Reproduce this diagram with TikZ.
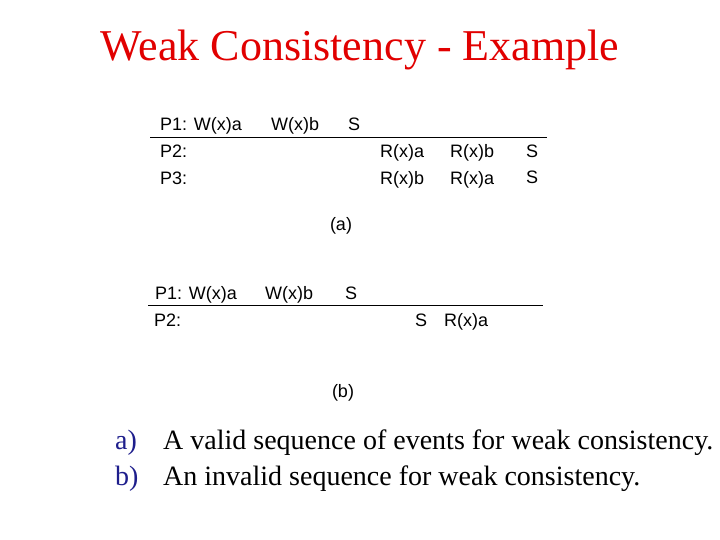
\documentclass[tikz,border=0pt]{standalone}
\usepackage{fontspec}
\setmainfont{Liberation Serif}
\newfontfamily\arialfont{Liberation Sans}
\definecolor{titlered}{RGB}{225,0,0}
\definecolor{labelblue}{RGB}{30,30,140}
\begin{document}
\begin{tikzpicture}[x=1pt,y=-1pt,
  ev/.style={anchor=base west,inner sep=0pt,font=\arialfont\fontsize{18}{20}\selectfont},
  subcap/.style={anchor=base,inner sep=0pt,font=\arialfont\fontsize{18}{20}\selectfont},
  txt/.style={anchor=base west,inner sep=0pt,font=\fontsize{28}{32}\selectfont},
  lbl/.style={anchor=base west,inner sep=0pt,text=labelblue,font=\fontsize{28}{32}\selectfont},
  sep/.style={line width=0.9pt}]
\useasboundingbox (0,0) rectangle (720,540);
\node[anchor=base,inner sep=0pt,text=titlered,font=\fontsize{44}{48}\selectfont] (title) at (360,61) {Weak Consistency - Example};
% (a)
\node[ev] (a11) at (160,131) {P1: W(x)a};
\node[ev] (a12) at (271,131) {W(x)b};
\node[ev] (a13) at (348,131) {S};
\coordinate (la1) at (150,137);
\coordinate (la2) at (547,137);
\draw[sep] (la1) -- (la2);
\node[ev] (a21) at (160,158) {P2:};
\node[ev] (a22) at (380,158) {R(x)a};
\node[ev] (a23) at (450,158) {R(x)b};
\node[ev] (a24) at (526,158) {S};
\node[ev] (a31) at (160,185) {P3:};
\node[ev] (a32) at (380,185) {R(x)b};
\node[ev] (a33) at (450,185) {R(x)a};
\node[ev] (a34) at (526,184) {S};
\node[subcap] (acap) at (341,230) {(a)};
% (b)
\node[ev] (b11) at (155,299) {P1: W(x)a};
\node[ev] (b12) at (265,299) {W(x)b};
\node[ev] (b13) at (345,299) {S};
\coordinate (lb1) at (148,305);
\coordinate (lb2) at (543,305);
\draw[sep] (lb1) -- (lb2);
\node[ev] (b21) at (154,326) {P2:};
\node[ev] (b22) at (415,326) {S};
\node[ev] (b23) at (444,326) {R(x)a};
\node[subcap] (bcap) at (343,397) {(b)};
% captions
\node[lbl] (la) at (115,449) {a)};
\node[txt] (ta) at (163,449) {A valid sequence of events for weak consistency.};
\node[lbl] (lb) at (115,485) {b)};
\node[txt] (tb) at (163,485) {An invalid sequence for weak consistency.};
\end{tikzpicture}
\end{document}
